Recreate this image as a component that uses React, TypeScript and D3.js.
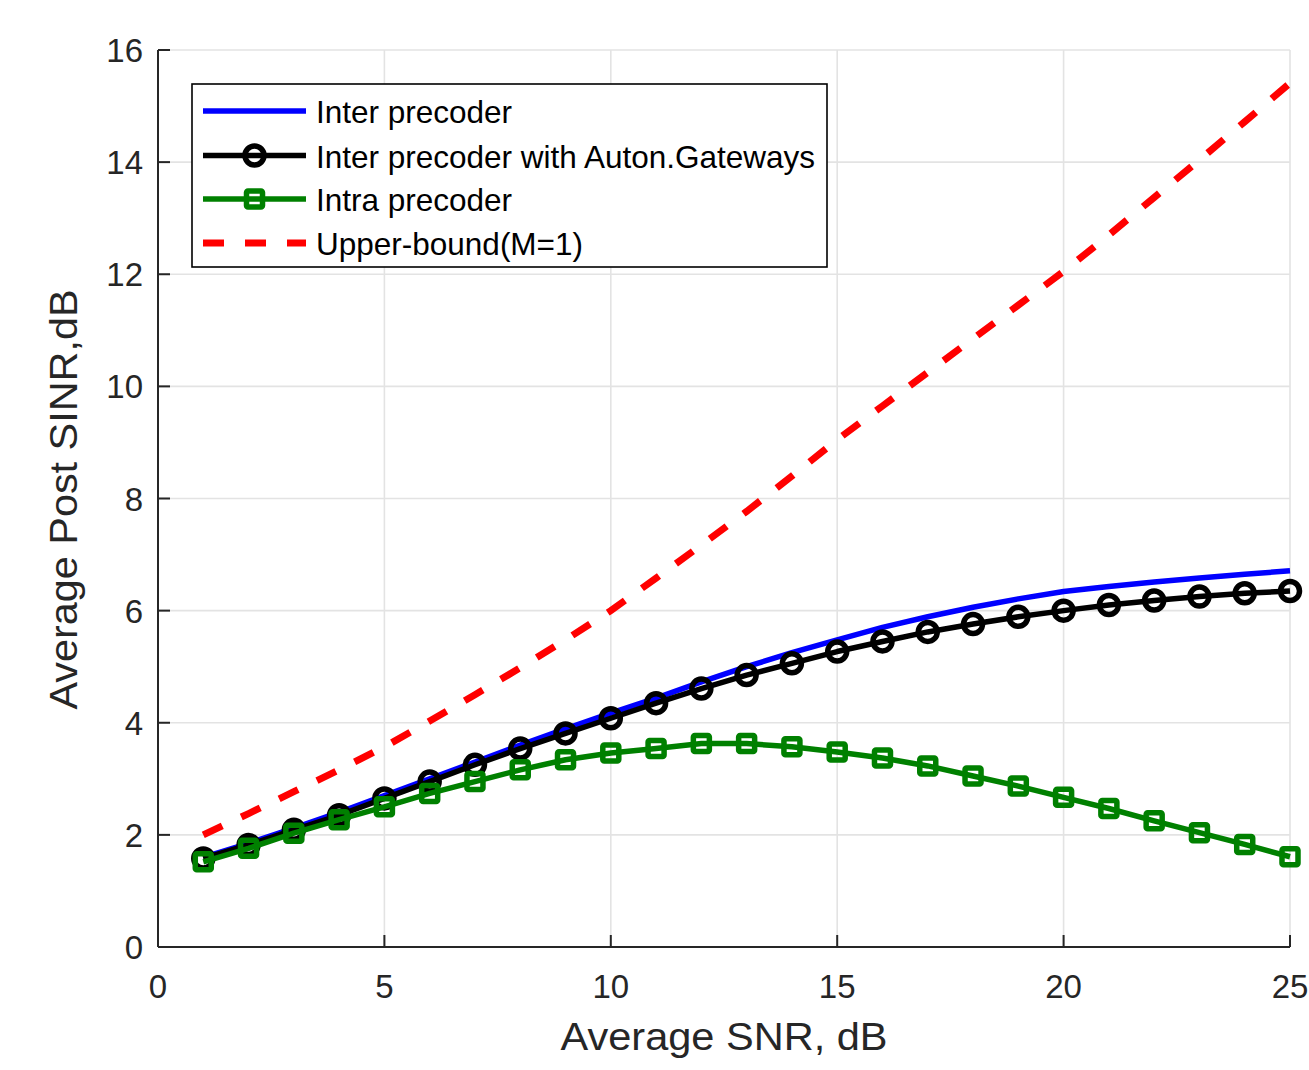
import React from "react";
import * as d3 from "d3";

const snr = [1,2,3,4,5,6,7,8,9,10,11,12,13,14,15,16,17,18,19,20,21,22,23,24,25];
const interPrecoder = [1.6,1.85,2.12,2.4,2.7,3.0,3.3,3.6,3.89,4.17,4.44,4.73,5.0,5.25,5.48,5.7,5.89,6.06,6.21,6.34,6.43,6.51,6.58,6.65,6.71];
const interAuton = [1.58,1.82,2.09,2.35,2.65,2.95,3.25,3.54,3.81,4.08,4.35,4.61,4.85,5.06,5.27,5.45,5.62,5.76,5.89,6.0,6.1,6.18,6.25,6.31,6.35];
const intraPrecoder = [1.52,1.76,2.03,2.27,2.5,2.74,2.95,3.16,3.34,3.46,3.54,3.63,3.63,3.57,3.48,3.37,3.23,3.05,2.87,2.67,2.47,2.25,2.04,1.83,1.61];
const upperBound = [2.0,2.38,2.77,3.16,3.57,4.03,4.5,4.98,5.48,6.0,6.58,7.17,7.77,8.4,9.05,9.65,10.25,10.85,11.45,12.05,12.7,13.37,14.04,14.72,15.41];
const xTicks = [0,5,10,15,20,25];
const yTicks = [0,2,4,6,8,10,12,14,16];
const legendLabels = ["Inter precoder","Inter precoder with Auton.Gateways","Intra precoder","Upper-bound(M=1)"];

const W = 1309, H = 1070;
const L = 158, R = 1290, T = 50, B = 947;
const FONT = "'Liberation Sans', Arial, Helvetica, sans-serif";
const AX = "#262626";

export default function App() {
  const x = d3.scaleLinear().domain([0, 25]).range([L, R]);
  const y = d3.scaleLinear().domain([0, 16]).range([B, T]);
  const mk = (vals: number[]) =>
    d3.line<number>().x((_, i) => x(snr[i])).y((v) => y(v))(vals) || "";

  const legendRows = [
    { color: "#0000ff", dash: undefined, marker: "none" },
    { color: "#000000", dash: undefined, marker: "circle" },
    { color: "#008000", dash: undefined, marker: "square" },
    { color: "#ff0000", dash: "21 21", marker: "none" },
  ];
  const lgX = 192, lgY = 84, lgW = 635, lgH = 183;
  const rowY = [111, 155.5, 199, 243];
  const LW = 5.5;

  return (
    <svg width={W} height={H} style={{ position: "absolute", left: 0, top: 0, background: "#fff" }}>
      <rect x={0} y={0} width={W} height={H} fill="#fff" />
      {xTicks.map((t) => (
        <line key={"gx" + t} x1={x(t)} x2={x(t)} y1={T} y2={B} stroke="#e3e3e3" strokeWidth={1.6} />
      ))}
      {yTicks.map((t) => (
        <line key={"gy" + t} x1={L} x2={R} y1={y(t)} y2={y(t)} stroke="#e3e3e3" strokeWidth={1.6} />
      ))}
      <line x1={L} x2={L} y1={T} y2={B} stroke={AX} strokeWidth={2} />
      <line x1={L} x2={R} y1={B} y2={B} stroke={AX} strokeWidth={2} />
      {xTicks.map((t) => (
        <g key={"tx" + t}>
          <line x1={x(t)} x2={x(t)} y1={B} y2={B - 12} stroke={AX} strokeWidth={2} />
          <text x={x(t)} y={998} textAnchor="middle" fontFamily={FONT} fontSize={33} fill={AX}>{t}</text>
        </g>
      ))}
      {yTicks.map((t) => (
        <g key={"ty" + t}>
          <line x1={L} x2={L + 12} y1={y(t)} y2={y(t)} stroke={AX} strokeWidth={2} />
          <text x={143} y={y(t) + 12} textAnchor="end" fontFamily={FONT} fontSize={33} fill={AX}>{t}</text>
        </g>
      ))}
      <text x={(L + R) / 2} y={1050} textAnchor="middle" fontFamily={FONT} fontSize={38} fill={AX}
        textLength={327} lengthAdjust="spacingAndGlyphs">Average SNR, dB</text>
      <text transform={`translate(77,${(T + B) / 2 + 1}) rotate(-90)`} textAnchor="middle" fontFamily={FONT} fontSize={38} fill={AX}
        textLength={420} lengthAdjust="spacingAndGlyphs">Average Post SINR,dB</text>

      <path d={mk(interPrecoder)} fill="none" stroke="#0000ff" strokeWidth={LW} strokeLinejoin="round" />
      <path d={mk(interAuton)} fill="none" stroke="#000000" strokeWidth={LW} strokeLinejoin="round" />
      {interAuton.map((v, i) => (
        <circle key={"c" + i} cx={x(snr[i])} cy={y(v)} r={9.5} fill="none" stroke="#000" strokeWidth={LW} />
      ))}
      <path d={mk(intraPrecoder)} fill="none" stroke="#008000" strokeWidth={LW} strokeLinejoin="round" />
      {intraPrecoder.map((v, i) => (
        <rect key={"s" + i} x={x(snr[i]) - 8} y={y(v) - 8} width={16} height={16} rx={1.5} fill="none" stroke="#008000" strokeWidth={LW} />
      ))}
      <path d={mk(upperBound)} fill="none" stroke="#ff0000" strokeWidth={7} strokeDasharray="21 21" />

      <rect x={lgX} y={lgY} width={lgW} height={lgH} fill="#fff" stroke="#000" strokeWidth={1.6} />
      {legendRows.map((r, i) => (
        <g key={"lg" + i}>
          <line x1={203} x2={306} y1={rowY[i]} y2={rowY[i]} stroke={r.color} strokeWidth={r.dash ? 7 : LW} strokeDasharray={r.dash} />
          {r.marker === "circle" && <circle cx={254.5} cy={rowY[i]} r={9.5} fill="none" stroke={r.color} strokeWidth={LW} />}
          {r.marker === "square" && <rect x={246.5} y={rowY[i] - 8} width={16} height={16} rx={1.5} fill="none" stroke={r.color} strokeWidth={LW} />}
          <text x={316} y={rowY[i] + 12} fontFamily={FONT} fontSize={31.5} fill="#000">{legendLabels[i]}</text>
        </g>
      ))}
    </svg>
  );
}
